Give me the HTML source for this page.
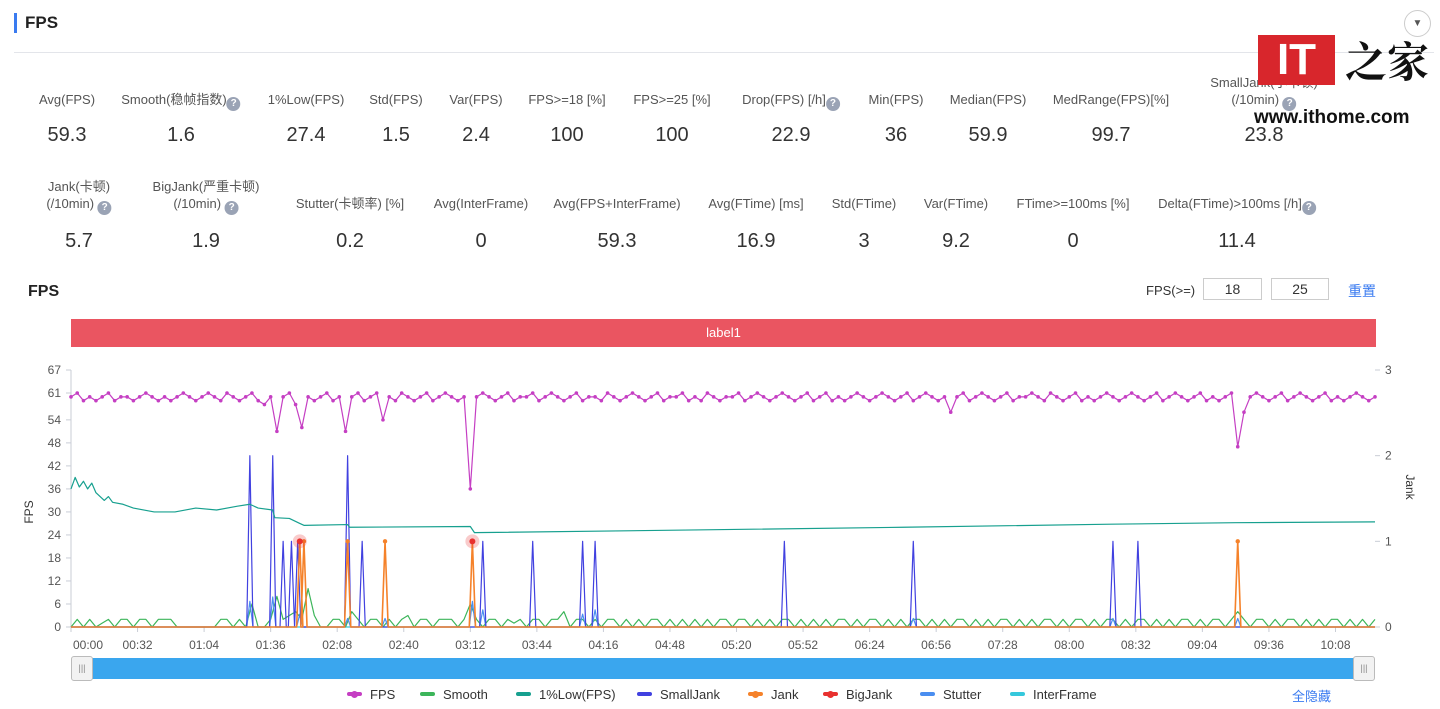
<!DOCTYPE html>
<html><head><meta charset="utf-8">
<style>
*{margin:0;padding:0;box-sizing:border-box}
body{width:1440px;height:709px;background:#fff;font-family:"Liberation Sans","Noto Sans CJK SC",sans-serif;color:#333;position:relative;overflow:hidden}
.abs{position:absolute}
.lbl{position:absolute;font-size:13px;color:#555;text-align:center;transform:translateX(-50%);white-space:nowrap;line-height:17px}
.val{position:absolute;font-size:20px;color:#333;transform:translateX(-50%);white-space:nowrap}
.q{display:inline-block;width:14px;height:14px;border-radius:50%;background:#9aa3b5;color:#fff;font-size:10px;line-height:14px;text-align:center;font-weight:bold;vertical-align:-2px}
</style></head><body>
<div class="abs" style="left:14px;top:13px;width:3px;height:20px;background:#3a7bf0"></div>
<div class="abs" style="left:25px;top:13px;font-size:17px;font-weight:bold;color:#222">FPS</div>
<div class="abs" style="left:1404px;top:10px;width:27px;height:27px;border:1px solid #ccc;border-radius:50%;text-align:center;line-height:25px;font-size:10px;color:#555">▼</div>
<div class="abs" style="left:14px;top:52px;width:1420px;height:1px;background:#e3e5ea"></div>

<div id="stats"></div>

<div class="abs" style="left:28px;top:283px;font-size:16px;font-weight:bold;color:#222">FPS</div>
<div class="abs" style="left:1146px;top:283px;font-size:13px;color:#333">FPS(&gt;=)</div>
<div class="abs" style="left:1203px;top:278px;width:59px;height:22px;border:1px solid #ccc;font-size:14px;text-align:center;line-height:20px">18</div>
<div class="abs" style="left:1271px;top:278px;width:58px;height:22px;border:1px solid #ccc;font-size:14px;text-align:center;line-height:20px">25</div>
<div class="abs" style="left:1348px;top:281px;font-size:14px;color:#3a7bf0">重置</div>
<div class="abs" style="left:71px;top:319px;width:1305px;height:28px;background:#ea5561;color:#fff;font-size:13px;text-align:center;line-height:28px">label1</div>

<svg id="chart" class="abs" style="left:0;top:0" width="1440" height="709"></svg>

<div class="abs" style="left:73px;top:658px;width:1302px;height:21px;background:#3aa6ee;border-radius:3px"></div>
<div class="abs" style="left:71px;top:656px;width:22px;height:25px;background:#f2f2f2;border:1px solid #bbb;border-radius:3px;font-size:9px;text-align:center;line-height:23px;color:#888">|||</div>
<div class="abs" style="left:1353px;top:656px;width:22px;height:25px;background:#f2f2f2;border:1px solid #bbb;border-radius:3px;font-size:9px;text-align:center;line-height:23px;color:#888">|||</div>
<div id="legend"></div>
<div class="abs" style="left:1292px;top:686px;font-size:13px;color:#3a7bf0">全隐藏</div>

<div class="abs" style="left:1258px;top:35px;width:77px;height:50px;background:#d8262c;color:#fff;font-size:44px;font-weight:bold;text-align:center;line-height:50px">IT</div>
<div class="abs" style="left:1345px;top:36px;font-size:42px;font-weight:bold;color:#111;font-family:'Noto Serif CJK SC',serif;line-height:48px">之家</div>
<div class="abs" style="left:1254px;top:107px;font-size:19px;font-weight:bold;color:#111">www.ithome.com</div>

<script>
const statsLabels1=["Avg(FPS)","Smooth(稳帧指数)?","1%Low(FPS)","Std(FPS)","Var(FPS)","FPS>=18 [%]","FPS>=25 [%]","Drop(FPS) [/h]?","Min(FPS)","Median(FPS)","MedRange(FPS)[%]","SmallJank(小卡顿)|(/10min) ?"];
const statsValues1=["59.3","1.6","27.4","1.5","2.4","100","100","22.9","36","59.9","99.7","23.8"];
const statsX1=[67,181,306,396,476,567,672,791,896,988,1111,1264];
const statsLabels2=["Jank(卡顿)|(/10min) ?","BigJank(严重卡顿)|(/10min) ?","Stutter(卡顿率) [%]","Avg(InterFrame)","Avg(FPS+InterFrame)","Avg(FTime) [ms]","Std(FTime)","Var(FTime)","FTime>=100ms [%]","Delta(FTime)>100ms [/h]?"];
const statsValues2=["5.7","1.9","0.2","0","59.3","16.9","3","9.2","0","11.4"];
const statsX2=[79,206,350,481,617,756,864,956,1073,1237];
const st=document.getElementById('stats');
function addStat(lab,val,x,ly,vy,i,row){
  const l=document.createElement('div');l.className='lbl';
  let html=lab.replace(/</g,'&lt;').replace('|','<br>').replace('?','<span class="q">?</span>');
  l.innerHTML=html;l.style.left=x+'px';l.style.top=(lab.includes('|')?ly-17:ly)+'px';
  
  
  st.appendChild(l);
  const v=document.createElement('div');v.className='val';v.textContent=val;v.style.left=x+'px';v.style.top=vy+'px';
  
  
  st.appendChild(v);
}
statsLabels1.forEach((s,i)=>addStat(s,statsValues1[i],statsX1[i],91,124,i,1));
statsLabels2.forEach((s,i)=>addStat(s,statsValues2[i],statsX2[i],195,230,i,2));
</script>
<script>
// ---- chart data ----
const sampleStep=3; // seconds between FPS/Smooth samples
const fpsValues=[
60,61,59,60,59,60,61,59,60,60,59,60,61,60,59,60,59,60,61,60,
59,60,61,60,59,61,60,59,60,61,59,58,60,51,60,61,58,52,60,59,
60,61,59,60,51,60,61,59,60,61,54,60,59,61,60,59,60,61,59,60,
61,60,59,60,36,60,61,60,59,60,61,59,60,60,61,59,60,61,60,59,
60,61,59,60,60,59,61,60,59,60,61,60,59,60,61,59,60,60,61,59,
60,59,61,60,59,60,60,61,59,60,61,60,59,60,61,60,59,60,61,59,
60,61,59,60,59,60,61,60,59,60,61,60,59,60,61,59,60,61,60,59,
60,56,60,61,59,60,61,60,59,60,61,59,60,60,61,60,59,61,60,59,
60,61,59,60,59,60,61,60,59,60,61,60,59,60,61,59,60,61,60,59,
60,61,59,60,59,60,61,47,56,60,61,60,59,60,61,59,60,61,60,59,
60,61,59,60,59,60,61,60,59,60];
const smoothValues=[
0,2,0,2,0,1,2,0,2,2,0,2,2,0,2,2,2,0,0,0,
0,0,0,0,2,2,0,2,0,6,0,0,2,8,2,3,4,2,10,3,
0,0,2,2,0,4,2,0,2,2,0,2,0,2,3,0,2,2,0,2,
2,2,0,2,6,2,0,2,2,0,2,1,2,0,2,2,0,2,2,4,
0,2,2,0,2,0,2,2,0,2,0,2,0,2,2,0,2,0,2,0,
2,0,2,0,2,2,0,2,2,0,2,0,2,0,2,2,0,2,0,2,
0,2,0,2,2,0,2,0,2,2,0,2,0,2,0,2,2,0,2,0,
2,0,2,2,0,2,0,2,0,2,2,0,2,0,2,0,2,2,0,2,
0,2,2,0,2,0,2,2,0,2,0,2,2,0,2,0,2,0,2,2,
0,2,0,2,2,0,2,4,2,0,2,2,0,2,0,2,2,0,2,0,
2,0,2,2,0,2,0,2,0,2];
const lowTimes=[0,2,4,6,8,10,12,14,16,18,20,25,30,40,50,60,70,80,86,90,97,98,105,110,112,133,134,192,194,300,400,500,560,627];
const lowValues=[36,39,36.5,38,36,37.5,35,34,33,34,32.5,32,31,30,30,31,30.5,31.5,32,31,30.5,28.5,28.3,27,26.5,26.7,26,26.2,24.6,25.3,26,26.8,27.2,27.4];
const smallJankTimes=[86,97,102,106,109,133,140,198,222,246,252,343,405,501,513];
const smallJankValues=[2,2,1,1,1,2,1,1,1,1,1,1,1,1,1];
const jankTimes=[110,112,133,151,193,561];
const jankValues=[1,1,1,1,1,1];
const bigJankTimes=[110,193];
const bigJankValues=[1,1];
const stutterTimes=[86,97,110,133,151,193,198,246,252,405,501,561];
const stutterValues=[0.3,0.35,0.15,0.1,0.1,0.3,0.2,0.15,0.2,0.1,0.1,0.1];
const leftTicks=[0,6,12,18,24,30,36,42,48,54,61,67];
const rightTicks=[0,1,2,3];
const timeTicks=["00:00","00:32","01:04","01:36","02:08","02:40","03:12","03:44","04:16","04:48","05:20","05:52","06:24","06:56","07:28","08:00","08:32","09:04","09:36","10:08"];
const tickStepSec=32;
const legendNames=["FPS","Smooth","1%Low(FPS)","SmallJank","Jank","BigJank","Stutter","InterFrame"];
const legendColors=["#c53fc3","#3cb55a","#17a08f","#4141e0","#f5822a","#e8312f","#4a8ef0","#35c8dc"];
const legendX=[347,420,516,637,748,823,920,1010];

// ---- axes ----
const X0=71,X1=1375,TMAX=627,YB=627,YT=370,LMAX=67,RMAX=3;
const xs=t=>X0+t*(X1-X0)/TMAX;
const yl=v=>YB-v*(YB-YT)/LMAX;
const yr=v=>YB-v*(YB-YT)/RMAX;
const svg=document.getElementById('chart');
const NS='http://www.w3.org/2000/svg';
function el(tag,attrs,parent){const e=document.createElementNS(NS,tag);for(const k in attrs)e.setAttribute(k,attrs[k]);(parent||svg).appendChild(e);return e;}

let a=el('line',{x1:X0,y1:YT,x2:X0,y2:YB,stroke:'#c9cdd6'});


a=el('line',{x1:X0,y1:YB,x2:X1,y2:YB,stroke:'#c9cdd6'});


leftTicks.forEach(v=>{
  el('line',{x1:X0-5,y1:yl(v),x2:X0,y2:yl(v),stroke:'#c9cdd6'});
  const t=el('text',{x:X0-10,y:yl(v)+4,'text-anchor':'end','font-size':12,fill:'#555'});t.textContent=v;
  
  
});
rightTicks.forEach(v=>{
  el('line',{x1:X1,y1:yr(v),x2:X1+5,y2:yr(v),stroke:'#c9cdd6'});
  const t=el('text',{x:X1+10,y:yr(v)+4,'font-size':12,fill:'#555'});t.textContent=v;
  
  
});
timeTicks.forEach((s,i)=>{
  const x=xs(i*tickStepSec);
  el('line',{x1:x,y1:YB,x2:x,y2:YB+5,stroke:'#c9cdd6'});
  const t=el('text',{x:x+(i==0?2:0),y:YB+22,'text-anchor':i==0?'start':'middle','font-size':12,fill:'#555'});t.textContent=s;
  
  
});
let yt=el('text',{x:33,y:512,'font-size':12,fill:'#333',transform:'rotate(-90 33 512)','text-anchor':'middle'});yt.textContent='FPS';


yt=el('text',{x:1406,y:487,'font-size':12,fill:'#333',transform:'rotate(90 1406 487)','text-anchor':'middle'});yt.textContent='Jank';



function poly(pts,color,name,w){
  const p=el('polyline',{points:pts.map(q=>q.join(',')).join(' '),fill:'none',stroke:color,'stroke-width':w||1.2,'stroke-linejoin':'round'});
  
  
  return p;
}
function spikes(times,vals,scale){
  const pts=[[X0,scale(0)]];
  times.map((t,i)=>[t,vals[i]]).sort((a,b)=>a[0]-b[0]).forEach(([t,v])=>{
    pts.push([xs(t-1.5),scale(0)],[xs(t),scale(v)],[xs(t+1.5),scale(0)]);
  });
  pts.push([X1,scale(0)]);return pts;
}
poly([[X0,yr(0)],[X1,yr(0)]],legendColors[7],'interframe-line');
poly(smoothValues.map((v,i)=>[xs(i*sampleStep),yl(v)]),legendColors[1],'smooth-line');
poly(spikes(stutterTimes,stutterValues,yr),legendColors[6],'stutter-line');
poly(spikes(smallJankTimes,smallJankValues,yr),legendColors[3],'smalljank-line');
poly(spikes(jankTimes,jankValues,yr),legendColors[4],'jank-line',1.6);
jankTimes.forEach((t,i)=>{
  const c=el('circle',{cx:xs(t),cy:yr(jankValues[i]),r:2.2,fill:legendColors[4]});
  
  
});
bigJankTimes.forEach((t,i)=>{
  el('circle',{cx:xs(t),cy:yr(bigJankValues[i]),r:7,fill:'#e8312f','fill-opacity':0.25});
  const c=el('circle',{cx:xs(t),cy:yr(bigJankValues[i]),r:3,fill:legendColors[5]});
  
  
});
poly(lowTimes.map((t,i)=>[xs(t),yl(lowValues[i])]),legendColors[2],'low1-line');
poly(fpsValues.map((v,i)=>[xs(i*sampleStep),yl(v)]),legendColors[0],'fps-line');
fpsValues.forEach((v,i)=>{
  const c=el('circle',{cx:xs(i*sampleStep),cy:yl(v),r:1.8,fill:legendColors[0]});
  
  
});

const lg=document.getElementById('legend');
legendNames.forEach((n,i)=>{
  const d=document.createElement('div');
  d.style.cssText='position:absolute;top:687px;left:'+legendX[i]+'px;font-size:13px;color:#333;white-space:nowrap';
  const dot=(i==0||i==4||i==5)?'<span style="display:block;width:7px;height:7px;border-radius:50%;background:'+legendColors[i]+';position:absolute;left:4px;top:-1.5px"></span>':'';
  d.innerHTML='<span style="display:inline-block;width:15px;height:4px;background:'+legendColors[i]+';vertical-align:3px;margin-right:8px;border-radius:2px;position:relative">'+dot+'</span>'+n;
  
  
  lg.appendChild(d);
});
</script>
</body></html>
